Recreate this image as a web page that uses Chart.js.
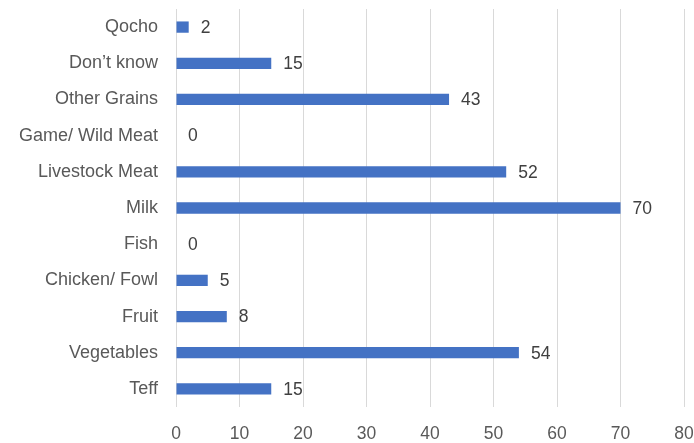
<!DOCTYPE html>
<html>
<head>
<meta charset="utf-8">
<script src="https://cdn.jsdelivr.net/npm/chart.js@4/dist/chart.umd.min.js"></script>
<style>
  html, body { margin: 0; padding: 0; background: #fff; }
  #wrap { width: 694px; height: 443px; }
</style>
</head>
<body>
<div id="wrap"><canvas id="chart" width="694" height="443"></canvas></div>
<script>
// categories, top to bottom as drawn
const categories = ['Qocho', 'Don’t know', 'Other Grains', 'Game/ Wild Meat', 'Livestock Meat',
  'Milk', 'Fish', 'Chicken/ Fowl', 'Fruit', 'Vegetables', 'Teff'];
const counts = [2, 15, 43, 0, 52, 70, 0, 5, 8, 54, 15];
const xTicks = [0, 10, 20, 30, 40, 50, 60, 70, 80];

const FONT = 'Liberation Sans, Arial, sans-serif';
const textColor = '#595959';

// draws the value next to each bar
const valueLabels = {
  id: 'valueLabels',
  afterDatasetsDraw(chart) {
    const { ctx } = chart;
    const meta = chart.getDatasetMeta(0);
    ctx.save();
    ctx.font = '17.5px ' + FONT;
    ctx.fillStyle = '#404040';
    ctx.textBaseline = 'middle';
    ctx.textAlign = 'left';
    meta.data.forEach((bar, i) => {
      ctx.fillText(String(counts[i]), bar.x + 12, bar.y + 1);
    });
    ctx.restore();
  }
};

new Chart(document.getElementById('chart'), {
  type: 'bar',
  data: {
    labels: categories,
    datasets: [{
      data: counts,
      backgroundColor: '#4472C4',
      borderWidth: 0,
      barPercentage: 0.6,
      categoryPercentage: 0.52
    }]
  },
  plugins: [valueLabels],
  options: {
    indexAxis: 'y',
    responsive: false,
    animation: false,
    layout: { padding: { top: 9, right: 10, left: 0, bottom: 0 } },
    plugins: {
      legend: { display: false },
      tooltip: { enabled: false }
    },
    scales: {
      x: {
        min: 0,
        max: 80,
        afterBuildTicks: (axis) => { axis.ticks = xTicks.map(v => ({ value: v })); },
        afterFit: (axis) => {
          axis.height = 36;
          axis.paddingLeft = 0;
          axis.paddingRight = 0;
        },
        border: { display: false },
        grid: { color: '#d9d9d9', lineWidth: 1, drawTicks: false },
        ticks: { color: textColor, font: { family: FONT, size: 17.5 }, padding: 17, maxRotation: 0 }
      },
      y: {
        afterFit: (axis) => {
          axis.width = 176;
          axis.paddingTop = 0;
          axis.paddingBottom = 0;
        },
        border: { display: false },
        grid: { display: false, drawTicks: false },
        ticks: { color: textColor, font: { family: FONT, size: 18 }, padding: 18 }
      }
    }
  }
});
</script>
</body>
</html>
